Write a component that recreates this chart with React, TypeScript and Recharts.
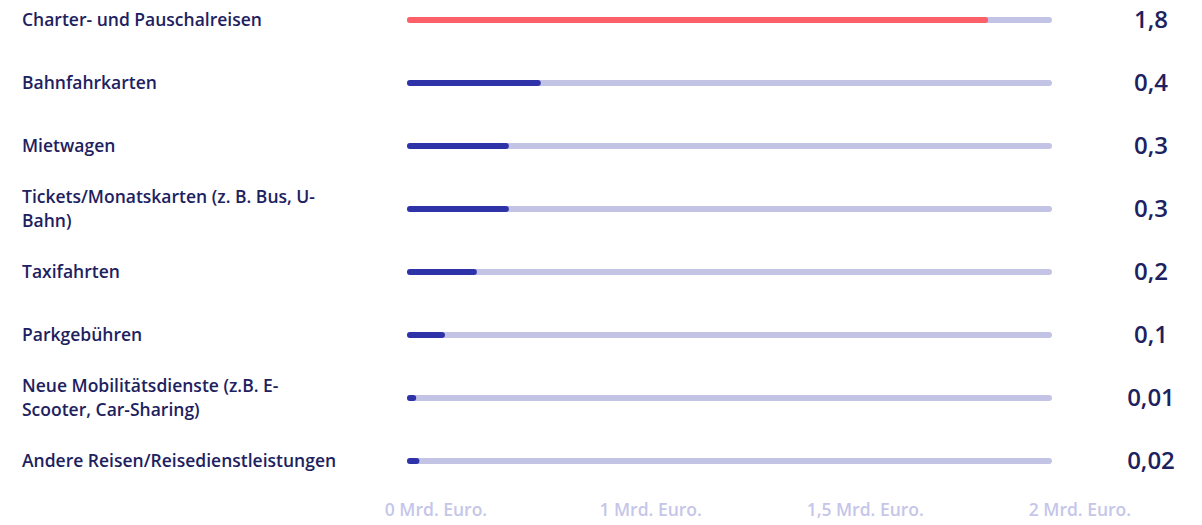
import { Bar, BarChart, Cell, XAxis, YAxis } from 'recharts';

const categories = [
  'Charter- und Pauschalreisen',
  'Bahnfahrkarten',
  'Mietwagen',
  'Tickets/Monatskarten (z. B. Bus, U-Bahn)',
  'Taxifahrten',
  'Parkgebühren',
  'Neue Mobilitätsdienste (z.B. E-Scooter, Car-Sharing)',
  'Andere Reisen/Reisedienstleistungen',
];
const values = [1.8, 0.4, 0.3, 0.3, 0.2, 0.1, 0.01, 0.02];
const highlighted = 'Charter- und Pauschalreisen';
const axisLabels = ['0 Mrd. Euro.', '1 Mrd. Euro.', '1,5 Mrd. Euro.', '2 Mrd. Euro.'];

const TEXT = '#1d2160';
const BAR = '#2e33a8';
const RED = '#fb5f68';
const TRACK = '#c3c3e5';
const MUTED = '#c5c6e9';
const FONT = '"Open Sans", Lato, sans-serif';
const LABEL_SIZE = 17.5;
const WEIGHT = 600;
const CAP = 3;

const data = categories.map((name, i) => ({
  name,
  value: values[i],
  display: String(values[i]).replace('.', ','),
}));

let ctx: CanvasRenderingContext2D | null = null;
function measure(text: string) {
  if (!ctx) ctx = document.createElement('canvas').getContext('2d');
  if (!ctx) return text.length * 9;
  ctx.font = `${WEIGHT} ${LABEL_SIZE}px ${FONT}`;
  return ctx.measureText(text).width;
}

// break at spaces and after hyphens, like the browser would
function wrapLabel(label: string, maxWidth: number) {
  const parts = label.match(/[^\s-]+-?\s*|\s+/g) ?? [label];
  const lines: string[] = [];
  let current = '';
  for (const part of parts) {
    const next = current + part;
    if (current && measure(next.trimEnd()) > maxWidth) {
      lines.push(current.trimEnd());
      current = part;
    } else {
      current = next;
    }
  }
  if (current) lines.push(current.trimEnd());
  return lines;
}

function CategoryTick({ x, y, payload }: any) {
  const lines = wrapLabel(payload.value, 320);
  const lineHeight = 24;
  const top = y - ((lines.length - 1) * lineHeight) / 2;
  return (
    <text x={x} y={top} fill={TEXT} fontSize={LABEL_SIZE} fontWeight={WEIGHT} textAnchor="start">
      {lines.map((line, i) => (
        <tspan key={i} x={x} dy={i === 0 ? '0.36em' : lineHeight}>
          {line}
        </tspan>
      ))}
    </text>
  );
}

function RoundBar({ x, y, width, height, fill }: any) {
  return (
    <rect
      x={x - CAP}
      y={y}
      width={Math.max(width, 0) + CAP * 2}
      height={height}
      rx={height / 2}
      fill={fill}
    />
  );
}

function Track({ x, y, width, height }: any) {
  return (
    <rect
      x={x - CAP}
      y={y}
      width={width + CAP * 2}
      height={height}
      rx={height / 2}
      fill={TRACK}
    />
  );
}

export default function App() {
  return (
    <div style={{ width: 1186, height: 517, fontFamily: FONT }}>
      <BarChart
        width={1186}
        height={517}
        data={data}
        layout="vertical"
        margin={{ top: -20, right: 0, bottom: 0, left: 0 }}
        barCategoryGap={0}
      >
        <XAxis xAxisId="value" type="number" domain={[0, 2]} hide />
        <XAxis
          xAxisId="labels"
          type="number"
          domain={[-0.121, 2.856]}
          allowDataOverflow
          ticks={[0, 1, 2, 3]}
          interval={0}
          tickFormatter={(v: number) => axisLabels[v]}
          axisLine={false}
          tickLine={false}
          tickSize={0}
          tickMargin={12}
          height={33}
          tick={{ fill: MUTED, fontSize: LABEL_SIZE, fontWeight: WEIGHT }}
        />
        <YAxis
          yAxisId="left"
          type="category"
          dataKey="name"
          width={402}
          axisLine={false}
          tickLine={false}
          tickSize={0}
          tickMargin={388}
          interval={0}
          tick={<CategoryTick />}
        />
        <YAxis
          yAxisId="right"
          orientation="right"
          type="category"
          dataKey="display"
          width={145}
          axisLine={false}
          tickLine={false}
          tickSize={0}
          tickMargin={102}
          interval={0}
          tick={{ fill: TEXT, fontSize: 24, fontWeight: WEIGHT, textAnchor: 'middle' }}
        />
        <Bar
          xAxisId="value"
          yAxisId="left"
          dataKey="value"
          barSize={6}
          background={<Track />}
          shape={<RoundBar />}
          isAnimationActive={false}
        >
          {data.map((d) => (
            <Cell key={d.name} fill={d.name === highlighted ? RED : BAR} />
          ))}
        </Bar>
      </BarChart>
    </div>
  );
}
